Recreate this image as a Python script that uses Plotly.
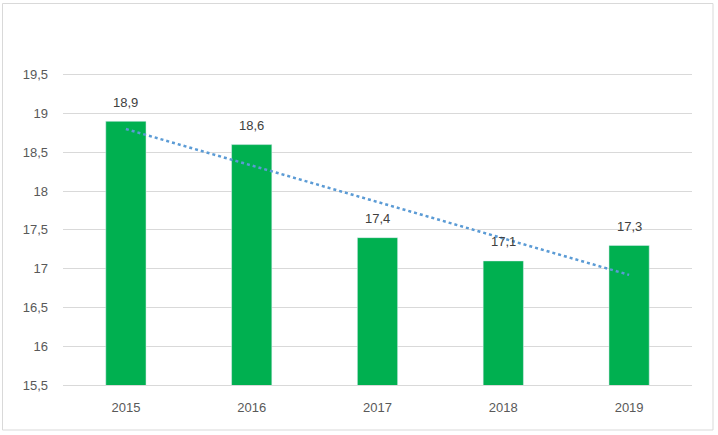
import plotly.graph_objects as go

years = ["2015", "2016", "2017", "2018", "2019"]
values = [18.9, 18.6, 17.4, 17.1, 17.3]
tick_vals = [15.5, 16, 16.5, 17, 17.5, 18, 18.5, 19, 19.5]
tick_text = ["15,5", "16", "16,5", "17", "17,5", "18", "18,5", "19", "19,5"]

# linear trendline (least squares) fitted to the bar values
n = len(values)
xs = list(range(n))
mx = sum(xs) / n
my = sum(values) / n
slope = sum((x - mx) * (v - my) for x, v in zip(xs, values)) / sum((x - mx) ** 2 for x in xs)
trend = [float(my + slope * (x - mx)) for x in xs]

fig = go.Figure()
fig.add_trace(go.Bar(x=xs, y=values, marker_color="#00B050", width=0.32,
                     hoverinfo="skip"))
fig.add_trace(go.Scatter(x=xs, y=trend, mode="lines",
                         line=dict(color="#5B9BD5", width=2.5, dash="dot"),
                         hoverinfo="skip"))

for x, v in zip(xs, values):
    fig.add_annotation(x=x, y=v, text=f"{v:.1f}".replace(".", ","), showarrow=False,
                       yshift=19, font=dict(size=13, color="#404040"))

W, H = 718, 435
ml, mr, mt, mb = 63, 26, 36, 50
pw, ph = W - ml - mr, H - mt - mb
# outer chart border (figure pixel coords converted to paper fractions)
bx0, bx1, by0, by1 = 2.5, 713, 3.5, 430
fig.add_shape(type="rect", xref="paper", yref="paper",
              x0=(bx0 - ml) / pw, x1=(bx1 - ml) / pw,
              y0=(H - mb - by1) / ph, y1=(H - mb - by0) / ph,
              line=dict(color="#D9D9D9", width=1), fillcolor="rgba(0,0,0,0)")

fig.update_layout(
    width=W, height=H, margin=dict(l=ml, r=mr, t=mt, b=mb, autoexpand=False),
    plot_bgcolor="white", paper_bgcolor="white", showlegend=False,
    font=dict(family="Liberation Sans, Arial, sans-serif", size=12, color="#595959"),
    xaxis=dict(range=[-0.5, n - 0.5], tickvals=xs, ticktext=years,
               showgrid=False, showline=True, linecolor="#D9D9D9",
               ticks="", ticklabelstandoff=10, tickfont=dict(size=13, color="#595959")),
    yaxis=dict(range=[15.5, 20], tickvals=tick_vals, ticktext=tick_text,
               showgrid=True, gridcolor="#D9D9D9", gridwidth=1, zeroline=False,
               showline=False, ticks="", ticklabelstandoff=14,
               tickfont=dict(size=13, color="#595959")),
)

fig.write_html("out.html", config={"displayModeBar": False},
               post_script="document.body.style.margin='0';")
